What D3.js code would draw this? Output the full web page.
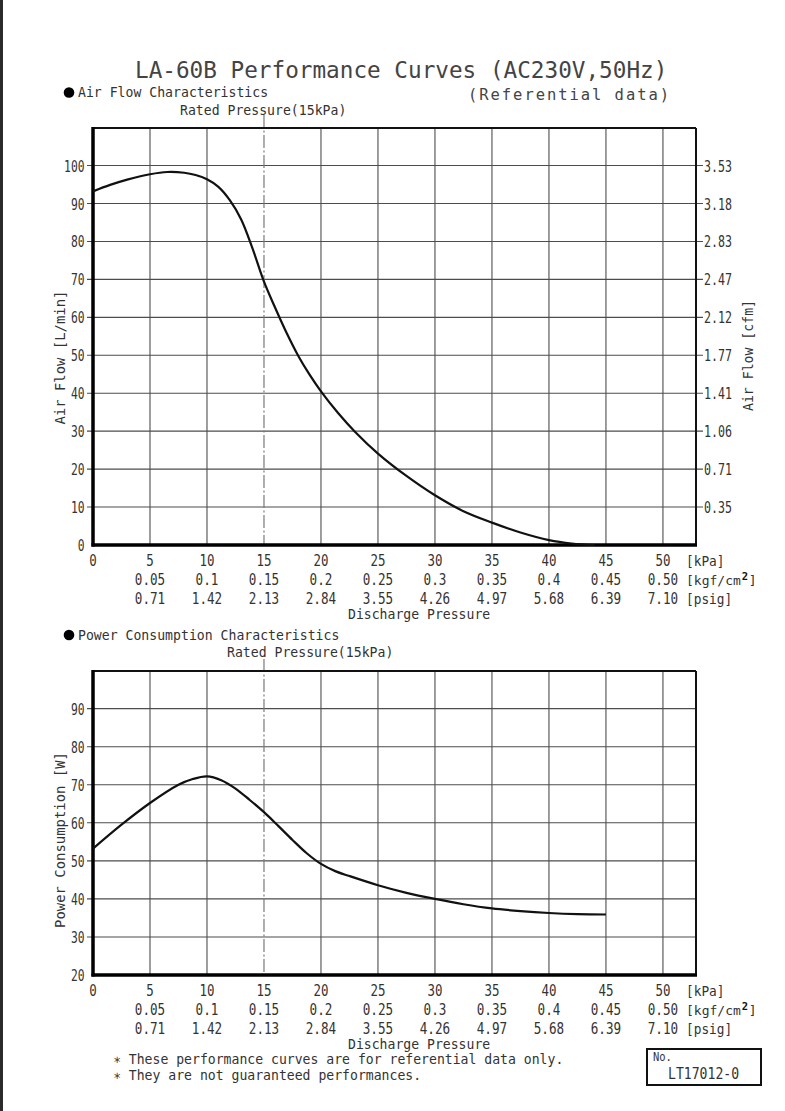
<!DOCTYPE html>
<html><head><meta charset="utf-8">
<script src="https://cdn.jsdelivr.net/npm/d3@7"></script>
<style>html,body{margin:0;padding:0;background:#fff;}svg{display:block;}</style>
</head><body>
<svg id="c" width="785" height="1111"></svg>
<script>
// ---- data ----
const kPaTicks = [0,5,10,15,20,25,30,35,40,45,50];
const kgfLabels = ["0.05","0.1","0.15","0.2","0.25","0.3","0.35","0.4","0.45","0.50"];
const psigLabels = ["0.71","1.42","2.13","2.84","3.55","4.26","4.97","5.68","6.39","7.10"];
const airTicks = [0,10,20,30,40,50,60,70,80,90,100];
const cfmLabels = ["0.35","0.71","1.06","1.41","1.77","2.12","2.47","2.83","3.18","3.53"];
const powerTicks = [20,30,40,50,60,70,80,90];
const ratedPressure = 15;
const airX = [0,1.5,3,5,6.5,8,9,10,11,12,13,14,15,16,17,18,19,20,21.5,23,25,27.5,30,32.5,35,37.5,40,42,44];
const airY = [93.2,94.9,96.3,97.7,98.3,98.1,97.5,96.4,94.4,90.9,85.8,78.1,69.4,62.4,55.8,49.9,44.9,40.5,34.8,29.8,24.1,18.2,13.1,8.9,5.9,3.3,1.3,0.4,0];
const powX = [0,2.5,5,7.5,8.75,10,11.25,12.5,13.75,15,16.25,17.5,18.75,20,21.25,22.5,25,27.5,30,32.5,35,37.5,40,42.5,45];
const powY = [53.2,59.5,65.2,70,71.5,72.2,71.2,69.0,66.0,62.8,59.2,55.5,52.0,49.2,47.3,46.0,43.6,41.6,40,38.6,37.5,36.8,36.3,36.0,35.9];

const svg = d3.select("#c");
const FONT = "DejaVu Sans Mono";
const INK = "#333";

function txt(g, x, y, str, o) {
  o = o || {};
  const t = g.append("text").attr("x", x).attr("y", y).text(str)
    .attr("font-family", FONT).attr("font-size", o.size || 14)
    .attr("fill", o.fill || INK).attr("text-anchor", o.anchor || "start");
  if (o.weight) t.attr("font-weight", o.weight);
  if (o.cw) t.attr("textLength", o.len || str.length * o.cw).attr("lengthAdjust", o.adjust || "spacingAndGlyphs");
  if (o.transform) t.attr("transform", o.transform);
  return t;
}

// page left strip
svg.append("rect").attr("x",0).attr("y",0).attr("width",3).attr("height",1111).attr("fill","#2b2b2b");

// title
txt(svg, 135, 77.5, "LA-60B Performance Curves (AC230V,50Hz)", {size:23, cw:13.65, fill:"#444"});
txt(svg, 468, 99.5, "(Referential data)", {size:15.5, cw:11.17, adjust:"spacing", fill:"#444"});

const x = d3.scaleLinear().domain([0, 52.9]).range([93, 696]);

function panel(opt) {
  const g = svg.append("g");
  const y = opt.y;
  const [y0, y1] = y.range();
  // grid
  g.selectAll(".hg").data(opt.yTicks.filter(v => v !== y.domain()[0])).join("line")
    .attr("x1", x(0) - 6).attr("x2", x.range()[1] + (opt.rightTicks ? 7 : 0))
    .attr("y1", d => y(d)).attr("y2", d => y(d))
    .attr("stroke", "#4d4d4d").attr("stroke-width", 1.1);
  g.selectAll(".vg").data(kPaTicks.filter(v => v > 0 && v !== ratedPressure)).join("line")
    .attr("x1", d => x(d)).attr("x2", d => x(d)).attr("y1", y1).attr("y2", y0)
    .attr("stroke", "#4d4d4d").attr("stroke-width", 1.1);
  // rated pressure dash-dot
  g.append("line").attr("x1", x(ratedPressure)).attr("x2", x(ratedPressure))
    .attr("y1", opt.dashTop).attr("y2", y0)
    .attr("stroke", "#7a7a7a").attr("stroke-width", 1.2).attr("stroke-dasharray", "13,2.5,2,2.5");
  // frame
  const xr = x.range()[1];
  g.append("line").attr("x1", x(0)).attr("x2", xr).attr("y1", y1).attr("y2", y1).attr("stroke", "#111").attr("stroke-width", 2);
  g.append("line").attr("x1", xr).attr("x2", xr).attr("y1", y1).attr("y2", y0).attr("stroke", "#111").attr("stroke-width", 2);
  g.append("line").attr("x1", x(0)).attr("x2", x(0)).attr("y1", y1 - 1).attr("y2", y0 + 1.5).attr("stroke", "#000").attr("stroke-width", 3.5);
  g.append("line").attr("x1", x(0) - 1.5).attr("x2", xr + 1).attr("y1", y0).attr("y2", y0).attr("stroke", "#000").attr("stroke-width", 3.5);
  // curve
  const line = d3.line().x(d => x(d[0])).y(d => y(d[1])).curve(d3.curveCatmullRom.alpha(0.5));
  g.append("path").datum(opt.xs.map((v, i) => [v, opt.ys[i]]))
    .attr("d", line).attr("fill", "none").attr("stroke", "#111").attr("stroke-width", 2.2);
  // y tick labels
  opt.yTicks.forEach(v => txt(g, 84.5, y(v) + 6, String(v), {size:16, cw:6.8, anchor:"end"}));
  if (opt.rightTicks) {
    opt.rightLabels.forEach((s, i) => txt(g, 704, y(opt.yTicks[i + 1]) + 6, s, {size:16, cw:7}));
  }
  // x labels
  const b = y0;
  kPaTicks.forEach(v => txt(g, x(v), b + 21, String(v), {size:16, cw:7.5, anchor:"middle"}));
  kgfLabels.forEach((s, i) => txt(g, x(kPaTicks[i + 1]), b + 40, s, {size:16, cw:7.6, anchor:"middle"}));
  psigLabels.forEach((s, i) => txt(g, x(kPaTicks[i + 1]), b + 58.5, s, {size:16, cw:7.6, anchor:"middle"}));
  txt(g, 686, b + 21, "[kPa]", {size:14.5, cw:7.7});
  const kg = g.append("text").attr("x", 686).attr("y", b + 40)
    .attr("font-family", FONT).attr("font-size", 13).attr("fill", INK);
  kg.append("tspan").text("[kgf/cm");
  kg.append("tspan").attr("dy", -5).attr("font-size", 10.5).attr("font-weight", "bold").attr("fill", "#111").attr("dx", 1).text("2");
  kg.append("tspan").attr("dy", 5).attr("dx", 0.5).text("]");
  txt(g, 686, b + 58.5, "[psig]", {size:14.5, cw:7.7});
  txt(g, 348, b + 74, "Discharge Pressure", {size:13.5, cw:7.9});
  // section header
  g.append("circle").attr("cx", 69).attr("cy", opt.headY - 4.5).attr("r", 5.3).attr("fill", "#000");
  txt(g, 78, opt.headY, opt.head, {size:14, cw:7.92});
  txt(g, opt.ratedX, opt.headY + 17.5, "Rated Pressure(15kPa)", {size:14, cw:7.92});
  // axis titles
  txt(g, 0, 0, opt.yTitle, {size:14, cw:8.3, anchor:"middle", len:opt.yTitleLen,
      transform:`translate(65,${opt.yTitleY}) rotate(-90)`});
  if (opt.rTitle) txt(g, 0, 0, opt.rTitle, {size:14, cw:8, anchor:"middle", len:111,
      transform:`translate(753,355.5) rotate(-90)`});
}

panel({
  y: d3.scaleLinear().domain([0, 109.9]).range([545, 128]),
  yTicks: airTicks, rightTicks: true, rightLabels: cfmLabels,
  xs: airX, ys: airY, dashTop: 115,
  head: "Air Flow Characteristics", headY: 97, ratedX: 180,
  yTitle: "Air Flow [L/min]", yTitleY: 357.5, yTitleLen: 134,
  rTitle: "Air Flow [cfm]"
});

panel({
  y: d3.scaleLinear().domain([20, 99.9]).range([975, 671]),
  yTicks: powerTicks, rightTicks: false,
  xs: powX, ys: powY, dashTop: 659,
  head: "Power Consumption Characteristics", headY: 639.5, ratedX: 227,
  yTitle: "Power Consumption  [W]", yTitleY: 840, yTitleLen: 176
});

// footnotes
txt(svg, 113, 1064, "\u2217 These performance curves are for referential data only.", {size:13.5, cw:7.9});
txt(svg, 113, 1080, "\u2217 They are not guaranteed performances.", {size:13.5, cw:7.9});

// number box
svg.append("rect").attr("x", 647).attr("y", 1049).attr("width", 114).attr("height", 36)
  .attr("fill", "none").attr("stroke", "#111").attr("stroke-width", 2);
txt(svg, 653, 1061, "No.", {size:13, cw:6.3});
txt(svg, 668, 1079, "LT17012-0", {size:16, cw:7.9});
</script>
</body></html>
